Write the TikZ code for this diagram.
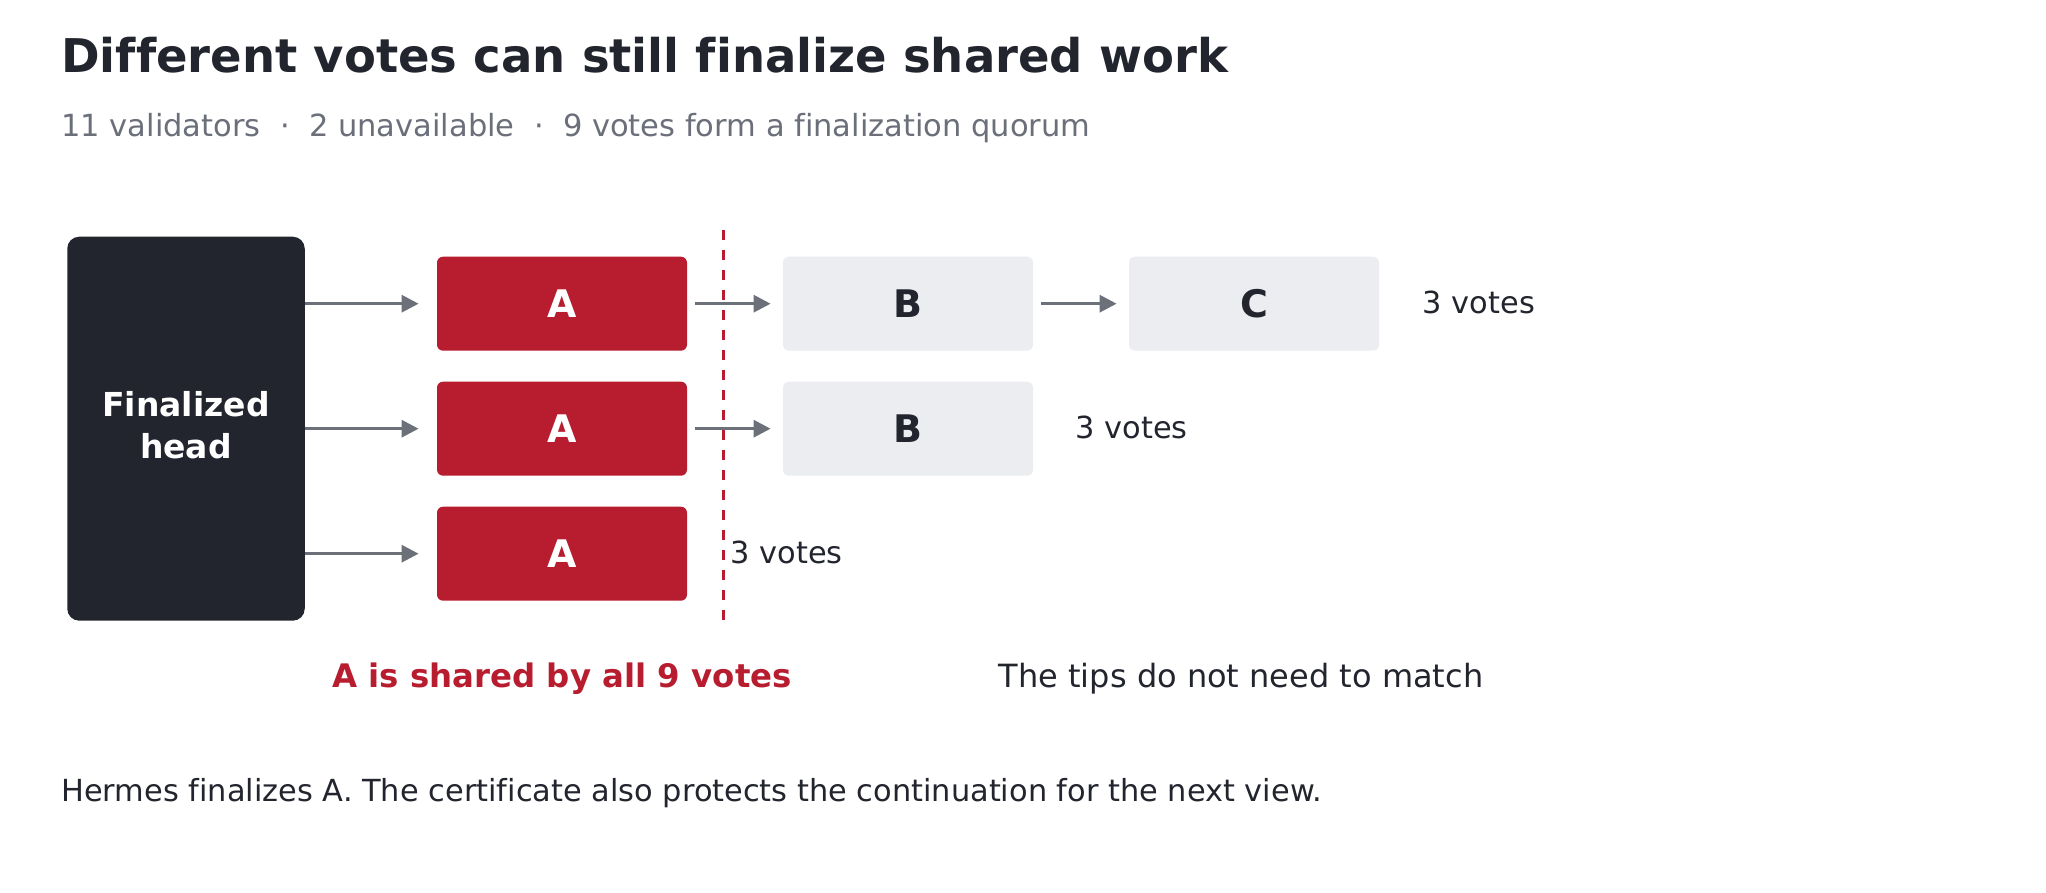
\documentclass[tikz,border=0pt]{standalone}
\usepackage{fontspec}
\setmainfont{DejaVu Sans}[Ligatures=NoCommon]
\usetikzlibrary{arrows.meta,positioning}

\definecolor{ink}{HTML}{22252D}
\definecolor{voteRed}{HTML}{B71C2F}
\definecolor{tipGray}{HTML}{ECEDF1}
\definecolor{arrGray}{HTML}{6B7079}
\definecolor{subGray}{HTML}{6B6F7A}

\tikzset{
  headbox/.style={rectangle, rounded corners=6pt, fill=ink, text=white,
    minimum width=118.75pt, minimum height=192pt, align=center, text depth=3.4pt,
    font=\fontsize{16.5}{21}\selectfont\bfseries},
  blk/.style={rectangle, rounded corners=3pt, minimum width=125pt, minimum height=47pt,
    font=\fontsize{19}{22}\selectfont\bfseries},
  shared/.style={blk, fill=voteRed, text=white},
  tipbox/.style={blk, fill=tipGray, text=ink},
  votes/.style={inner sep=0pt, anchor=west, yshift=0.7pt, text=ink,
    font=\fontsize{15.2}{18}\selectfont},
  arr/.style={draw=arrGray, line width=1.5pt, -{Triangle[length=8.5pt,width=8.5pt]}},
}

\begin{document}
\begin{tikzpicture}[x=0.5pt, y=-0.5pt, node distance=62.5pt and 173pt, on grid]
  \path[fill=white, use as bounding box] (0,0) rectangle (2046,893);

  % heading
  \node[anchor=base west, inner sep=0pt, text=ink, font=\fontsize{23.25}{28}\selectfont\bfseries]
    (title) at (61,72.5) {Different votes can still finalize shared work};
  \node[anchor=base west, inner sep=0pt, text=subGray, font=\fontsize{15.25}{18}\selectfont]
    (sub) at (61,136.7) {11 validators\ \ ·\ \ 2 unavailable\ \ ·\ \ 9 votes form a finalization quorum};

  % chains
  \node[shared] (A1) at (562,303.7) {A};
  \node[shared] (A2) [below=of A1] {A};
  \node[shared] (A3) [below=of A2] {A};
  \node[tipbox] (B1) [right=of A1] {B};
  \node[tipbox] (B2) [right=of A2] {B};
  \node[tipbox] (C1) [right=of B1] {C};
  \node[headbox] (H) [left=188pt of A2] {Finalized\\head};

  \draw[voteRed, line width=1.5pt, dash pattern=on 5pt off 5pt] (723,230) -- (723,624);

  \foreach \r in {1,2,3}
    \draw[arr, shorten >=9pt] (H.east |- A\r) -- (A\r);
  \draw[arr, shorten <=4pt, shorten >=6pt] (A1) -- (B1);
  \draw[arr, shorten <=4pt, shorten >=6pt] (A2) -- (B2);
  \draw[arr, shorten <=4pt, shorten >=6pt] (B1) -- (C1);

  \node[votes] (v1) at ([xshift=21.5pt]C1.east) {3 votes};
  \node[votes] (v2) at ([xshift=21pt]B2.east) {3 votes};
  \node[votes] (v3) at ([xshift=21.5pt]A3.east) {3 votes};

  % notes
  \node[anchor=base, inner sep=0pt, text=voteRed, font=\fontsize{16.2}{19}\selectfont\bfseries]
    (sharedNote) at (562,687) {A is shared by all 9 votes};
  \node[anchor=base, inner sep=0pt, text=ink, font=\fontsize{16}{19}\selectfont]
    (tipsNote) at (1241,687) {The tips do not need to match};
  \node[anchor=base west, inner sep=0pt, text=ink, font=\fontsize{15.2}{18}\selectfont]
    (foot) at (61,801) {Hermes finalizes A. The certificate also protects the continuation for the next view.};
\end{tikzpicture}
\end{document}
